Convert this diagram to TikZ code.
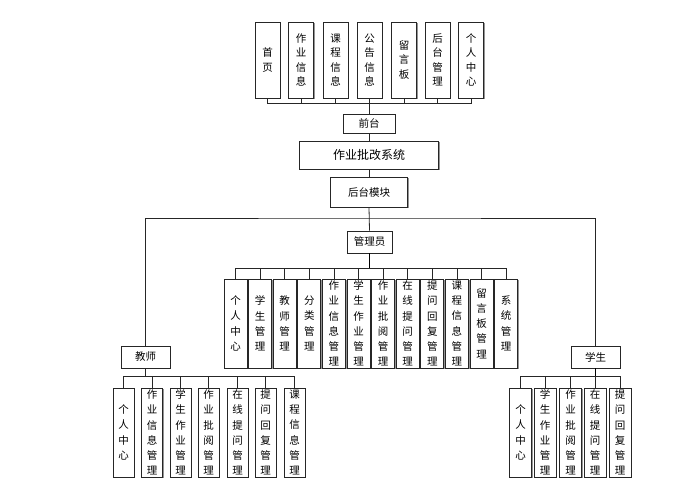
\documentclass[tikz,border=0pt]{standalone}
\usepackage{fontspec}
\setmainfont{Noto Sans CJK SC}
\usetikzlibrary{shadows}
\tikzset{
  bx/.style={draw=black!85, fill=white, line width=0.8pt, inner sep=0pt, align=center,
    drop shadow={shadow xshift=1.2pt, shadow yshift=-1.2pt, fill=black!60, opacity=0.7}},
  hbox/.style={bx, font=\fontsize{10.5}{12}\selectfont},
  vtop/.style={bx, minimum width=25pt, minimum height=76pt, font=\fontsize{10.5}{14.5}\selectfont},
  vbox/.style={bx, minimum height=89pt, font=\fontsize{10.5}{15.3}\selectfont},
  ln/.style={draw=black!85, line width=0.8pt},
  thk/.style={draw=black, line width=1.5pt}
}
\begin{document}
\begin{tikzpicture}[x=1pt,y=-1pt]
\useasboundingbox (0,0) rectangle (685,483);
% top boxes
\node[vtop] (t1) at (267.5,60) {首\\页};
\node[vtop] (t2) at (301,60) {作\\业\\信\\息};
\node[vtop] (t3) at (335.5,60) {课\\程\\信\\息};
\node[vtop] (t4) at (369.5,60) {公\\告\\信\\息};
\node[vtop] (t5) at (404,60) {留\\言\\板};
\node[vtop] (t6) at (437.5,60) {后\\台\\管\\理};
\node[vtop] (t7) at (471,60) {个\\人\\中\\心};
\coordinate (tb) at (369,103);
\node[hbox, minimum width=52pt, minimum height=19pt] (qt) at (369,123.5) {前台};
\node[bx, font=\fontsize{12}{13}\selectfont, minimum width=139pt, minimum height=28pt] (sys) at (369,155) {作业批改系统};
\node[hbox, minimum width=77pt, minimum height=30pt] (ht) at (369,192) {后台模块};
\node[hbox, minimum width=45pt, minimum height=22pt] (gl) at (369.5,242) {管理员};
\node[hbox, minimum width=49pt, minimum height=22pt] (js) at (145.5,357) {教师};
\node[hbox, minimum width=49pt, minimum height=22pt] (xs) at (595.5,357) {学生};
\coordinate (hj) at (369,218);
% admin boxes
\foreach \i/\t in {0/{个\\人\\中\\心},1/{学\\生\\管\\理},2/{教\\师\\管\\理},3/{分\\类\\管\\理},
  4/{作\\业\\信\\息\\管\\理},5/{学\\生\\作\\业\\管\\理},6/{作\\业\\批\\阅\\管\\理},7/{在\\线\\提\\问\\管\\理},
  8/{提\\问\\回\\复\\管\\理},9/{课\\程\\信\\息\\管\\理},10/{留\\言\\板\\管\\理},11/{系\\统\\管\\理}}
  \node[vbox, minimum width=23pt] (a\i) at (235.5+24.6*\i,323.5) {\t};
\coordinate (ab) at (369.5,268);
% teacher boxes
\foreach \i/\x/\t in {0/123.5/{个\\人\\中\\心},1/152/{作\\业\\信\\息\\管\\理},2/180.5/{学\\生\\作\\业\\管\\理},
  3/208.5/{作\\业\\批\\阅\\管\\理},4/237.5/{在\\线\\提\\问\\管\\理},5/265.5/{提\\问\\回\\复\\管\\理},6/294.5/{课\\程\\信\\息\\管\\理}}
  \node[vbox, minimum width=21pt] (j\i) at (\x,432.5) {\t};
\coordinate (jb) at (145.5,376);
% student boxes
\foreach \i/\x/\t in {0/520.5/{个\\人\\中\\心},1/545/{学\\生\\作\\业\\管\\理},2/570.5/{作\\业\\批\\阅\\管\\理},
  3/595/{在\\线\\提\\问\\管\\理},4/620/{提\\问\\回\\复\\管\\理}}
  \node[vbox, minimum width=22pt] (s\i) at (\x,432.5) {\t};
\coordinate (sb) at (595.5,376);
% connectors
\foreach \i in {1,...,7} \draw[ln] (t\i.south) |- (tb);
\draw[ln] (tb) -- (qt.north);
\draw[ln] (qt.south) -- (sys.north);
\draw[ln] (sys.south) -- (ht.north);
\draw[ln] (ht.south) -- (gl.north);
\draw[ln] (js.north) |- (hj) -| (xs.north);
\draw[thk] (gl.south) -- (ab);
\foreach \i in {0,...,11} \draw[ln] (a\i.north) |- (ab);
\draw[ln] (js.south) -- (jb);
\foreach \i in {0,...,6} \draw[ln] (j\i.north) |- (jb);
\draw[thk] (xs.south) -- (sb);
\foreach \i in {0,...,4} \draw[ln] (s\i.north) |- (sb);
\end{tikzpicture}
\end{document}
